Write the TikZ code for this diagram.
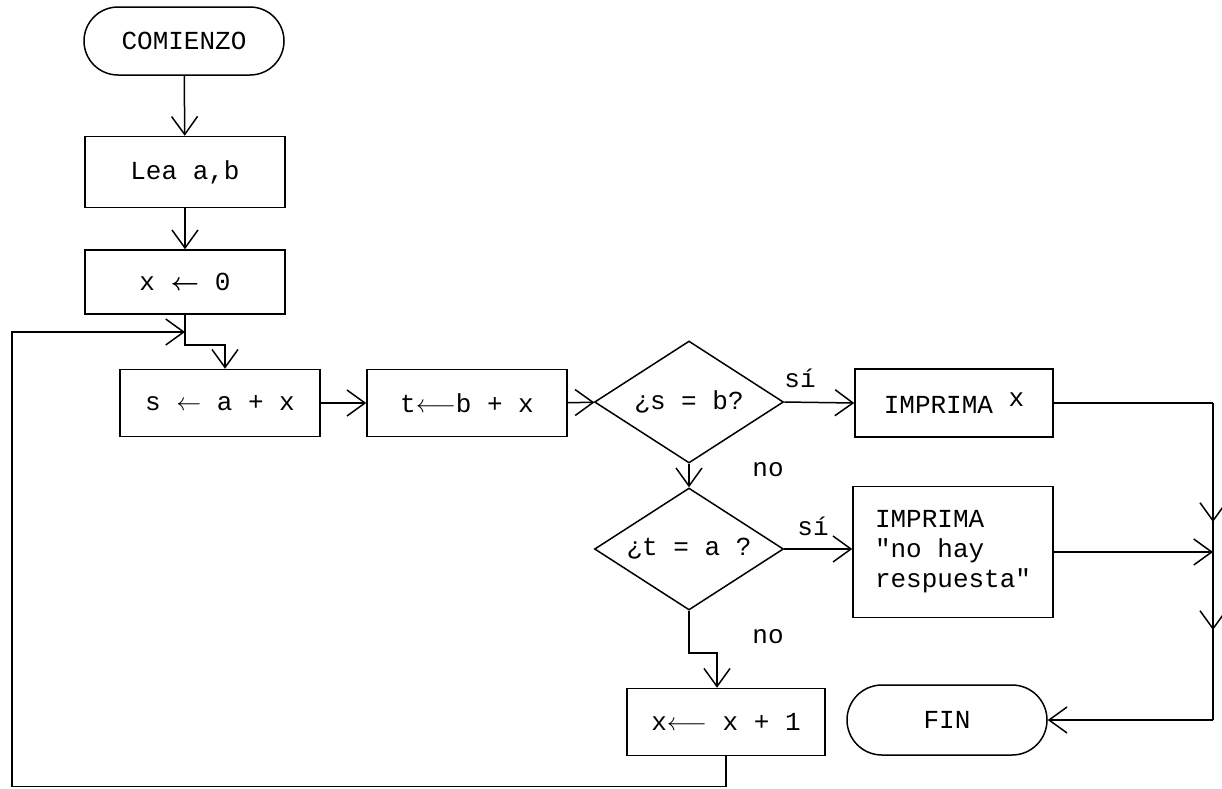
\documentclass[tikz,border=0pt]{standalone}
\usepackage{amsmath}
\usepackage{fontspec}
\setmonofont{Liberation Mono}
\usetikzlibrary{shapes.misc,shapes.geometric,arrows.meta}

\newcommand\flowfont{\ttfamily\fontsize{26}{30}\selectfont}

\tikzset{
  every node/.style={font=\flowfont, text=black},
  box/.style={draw, line width=1.5pt, rectangle, minimum width=200pt,
              minimum height=67pt, inner sep=0pt},
  term/.style={draw, line width=1.5pt, rounded rectangle,
               minimum width=200pt, minimum height=68pt, inner sep=0pt},
  decision/.style={draw, line width=1.5pt, diamond, aspect=1.54,
                   minimum width=189pt, minimum height=122pt, inner sep=0pt},
  conn/.style={line width=1.5pt},
  flow/.style={conn, -{Straight Barb[length=18pt,width=26pt,line width=1.5pt]}},
  lbl/.style={inner sep=0pt}
}

\begin{document}
\begin{tikzpicture}[x=1pt,y=-1pt]
  \useasboundingbox (0,0) rectangle (1222,788);

  % process blocks
  \node[term]  (start) at (184,41)  {COMIENZO};
  \node[box, minimum height=71pt] (read) at (185,172) {Lea a,b};
  \node[box, minimum height=64pt] (init) at (185,282) {x $\boldsymbol{\leftarrow}$ 0};
  \node[box]   (sum)  at (220,403) {s $\leftarrow$ a + x};
  \node[box]   (dif)  at (467,403) {t$\longleftarrow$b + x};
  \node[decision] (d1) at (689,402) {¿s = b?};
  \node[decision] (d2) at (689,549) {¿t = a ?};
  \node[box, minimum width=198pt, minimum height=68pt] (out1) at (954,403)
       {IMPRIMA \raisebox{7pt}{x}};
  \node[box, minimum height=131pt, align=left] (out2) at (953,552)
       {IMPRIMA\\"no hay\\respuesta"};
  \node[box, minimum width=198pt] (inc) at (726,722) {x$\longleftarrow$ x + 1};
  \node[term, minimum height=70pt] (fin) at (947,720) {FIN};

  % branch labels
  \node[lbl] (si1) at (800,378) {sí};
  \node[lbl] (no1) at (768,470) {no};
  \node[lbl] (si2) at (813,526) {sí};
  \node[lbl] (no2) at (768,637) {no};

  % helper points of the connectors
  \coordinate (merge) at (init.south |- 0,332);
  \coordinate (rtop) at (1213,403);
  \coordinate (m1) at (1213,522);
  \coordinate (m2) at (1213,630);
  \coordinate (rbot) at (1213,720);

  % main flow
  \draw[flow] (start) -- (read);
  \draw[flow] (read) -- (init);
  \draw[flow] (init.south) -- (merge) -- ++(0,13) -| ([xshift=5pt]sum.north);
  \draw[flow] (sum) -- (dif);
  \draw[flow] (dif) -- (d1);
  \draw[flow] (d1.east) -- (out1.west);
  \draw[flow] (d1.south) -- (d2.north);
  \draw[flow] (d2.east) -- (d2.east -| out2.west);
  \draw[flow] (d2.south) -- ++(0,42) -| ([xshift=-9pt]inc.north);

  % loop back
  \draw[flow] (inc.south) -- ++(0,30) -| (12,332) -- (merge);

  % collector on the right
  \draw[conn] (out1.east) -- (rtop);
  \draw[conn, line width=2.4pt] (rtop) -- (rbot);
  \draw[flow] (rtop) -- (m1);
  \draw[flow] (m1) -- (m2);
  \draw[flow] (rbot) -- (fin.east);
  \draw[flow] (out2.east) -- (out2.east -| rtop);
\end{tikzpicture}
\end{document}
